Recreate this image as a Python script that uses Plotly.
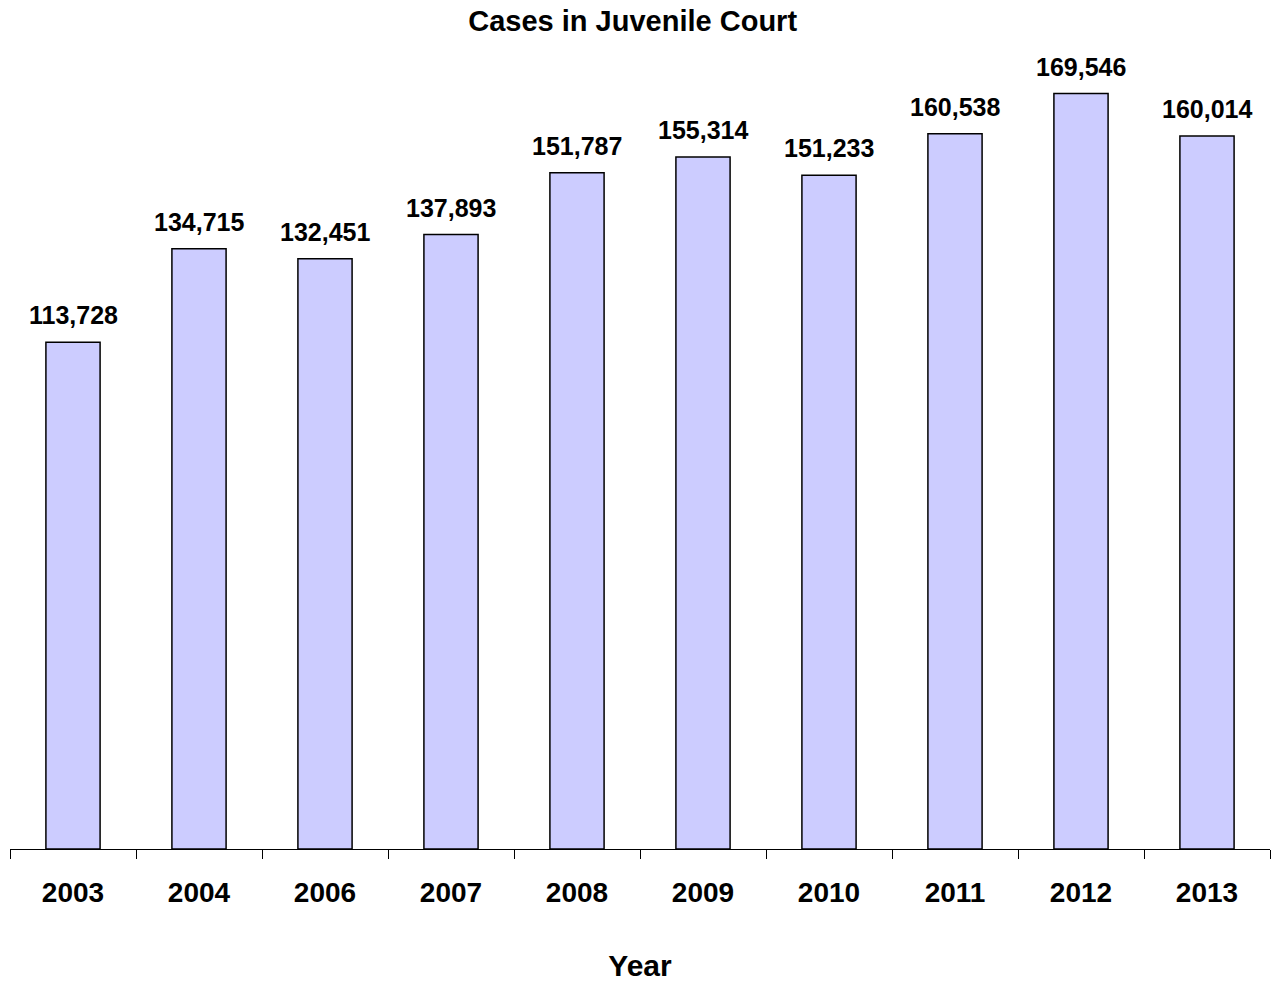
import plotly.graph_objects as go

years = ["2003", "2004", "2006", "2007", "2008", "2009", "2010", "2011", "2012", "2013"]
cases = [113728, 134715, 132451, 137893, 151787, 155314, 151233, 160538, 169546, 160014]
labels = [f"{v:,}" for v in cases]

FONT = "Liberation Sans, Arial, sans-serif"

fig = go.Figure()
fig.add_trace(go.Bar(
    x=years, y=cases,
    marker=dict(color="#CCCCFF", line=dict(color="black", width=1.5)),
    width=0.43,
))

for i, (v, t) in enumerate(zip(cases, labels)):
    fig.add_annotation(x=i, y=v, xref="x", yref="y", text=f"<b>{t}</b>", showarrow=False,
                       yanchor="bottom", yshift=11,
                       font=dict(family=FONT, size=25, color="black"))

fig.update_layout(
    width=1273, height=982,
    margin=dict(l=10, r=3, t=47, b=133),
    plot_bgcolor="white", paper_bgcolor="white",
    showlegend=False,
    title=dict(text="<b>Cases in Juvenile Court</b>", x=0.497, xanchor="center",
               y=0.979, yanchor="middle",
               font=dict(family=FONT, size=29, color="black")),
    xaxis=dict(
        type="category", range=[-0.5, 9.5],
        showline=True, linecolor="black", linewidth=1,
        ticks="outside", tickson="boundaries", ticklen=9, tickcolor="black", tickwidth=1,
        tickfont=dict(family=FONT, size=28, color="black"),
        ticklabelstandoff=18,
        tickprefix="<b>", ticksuffix="</b>",
        showgrid=False, zeroline=False,
        title=dict(text="<b>Year</b>", font=dict(family=FONT, size=30, color="black"), standoff=48),
    ),
    yaxis=dict(range=[0, 180000], visible=False, showgrid=False, zeroline=False),
)

fig.write_html("out.html", config={"displayModeBar": False},
               post_script="document.body.style.margin='0';")
